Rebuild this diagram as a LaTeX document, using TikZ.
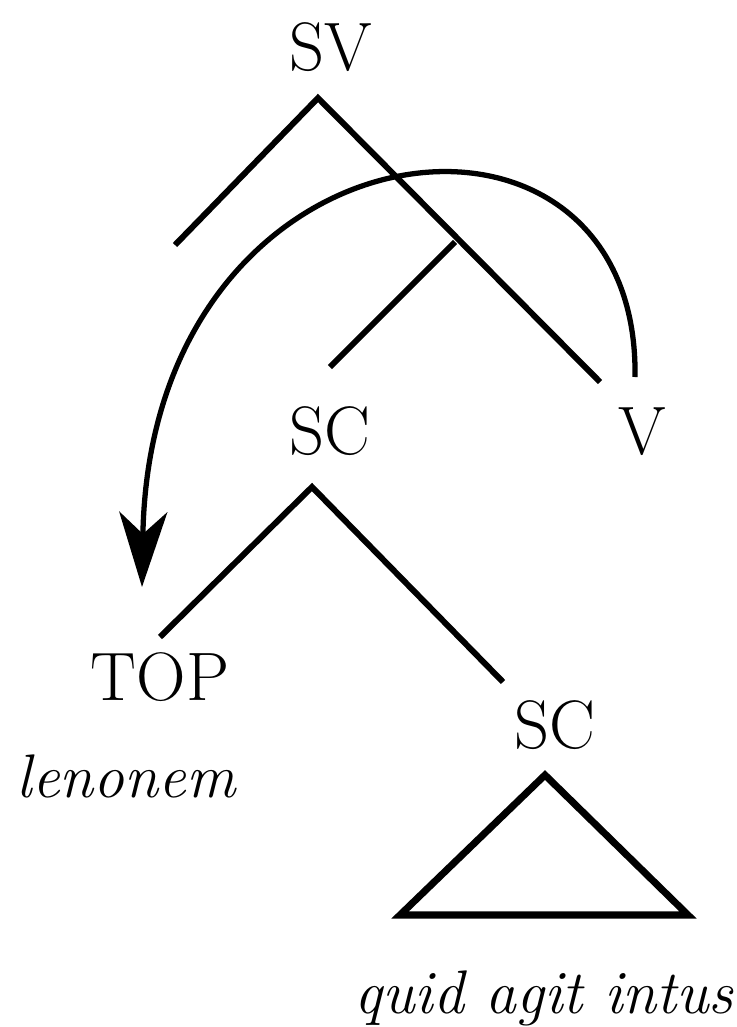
\documentclass[tikz,border=0pt]{standalone}
\usepackage{fontspec}
\usetikzlibrary{arrows.meta}

\begin{document}
\begin{tikzpicture}[x=0.01cm, y=-0.01cm,
  lbl/.style={inner sep=0pt, font=\fontsize{19.5}{22}\selectfont},
  word/.style={inner sep=0pt, anchor=base, font=\fontsize{17.5}{20}\selectfont\itshape},
  branch/.style={line width=1.7pt},
  move/.style={line width=1.5pt, -{Stealth[length=7.5mm, width=4.8mm, inset=2.2mm]}}]
  \useasboundingbox (0,0) rectangle (737,1027);

  % labels
  \node[lbl] (sv) at (331,47) {SV};
  \node[lbl] (v) at (642,432) {V};
  \node[lbl] (sc1) at (330,431) {SC};
  \node[lbl] (top) at (160,677) {TOP};
  \node[lbl] (sc2) at (555,725) {SC};
  \node[word] (len) at (126,797) {lenonem};
  \node[word] (quid) at (544,1013) {quid agit intus};

  % branch points
  \coordinate (sv-a) at (318,98);
  \coordinate (sv-l) at (175,245);
  \coordinate (sv-r) at (600,382);
  \coordinate (mid) at (455,242);
  \coordinate (mid-l) at (330,367);
  \coordinate (sc-a) at (312,487);
  \coordinate (sc-l) at (160,637);
  \coordinate (sc-r) at (503,682);
  \coordinate (tri-a) at (545,775);
  \coordinate (tri-l) at (400,915);
  \coordinate (tri-r) at (688,915);
  \coordinate (v-s) at (635,377);
  \coordinate (tip) at (142,587);

  \draw[branch] (sv-l) -- (sv-a) -- (sv-r);
  \draw[branch] (mid) -- (mid-l);
  \draw[branch] (sc-l) -- (sc-a) -- (sc-r);
  \draw[branch, line width=2pt, line join=miter] (tri-a) -- (tri-l) -- (tri-r) -- cycle;

  % movement arrow
  \draw[move] (v-s) .. controls (640,58) and (150,110) .. (tip);
\end{tikzpicture}
\end{document}
